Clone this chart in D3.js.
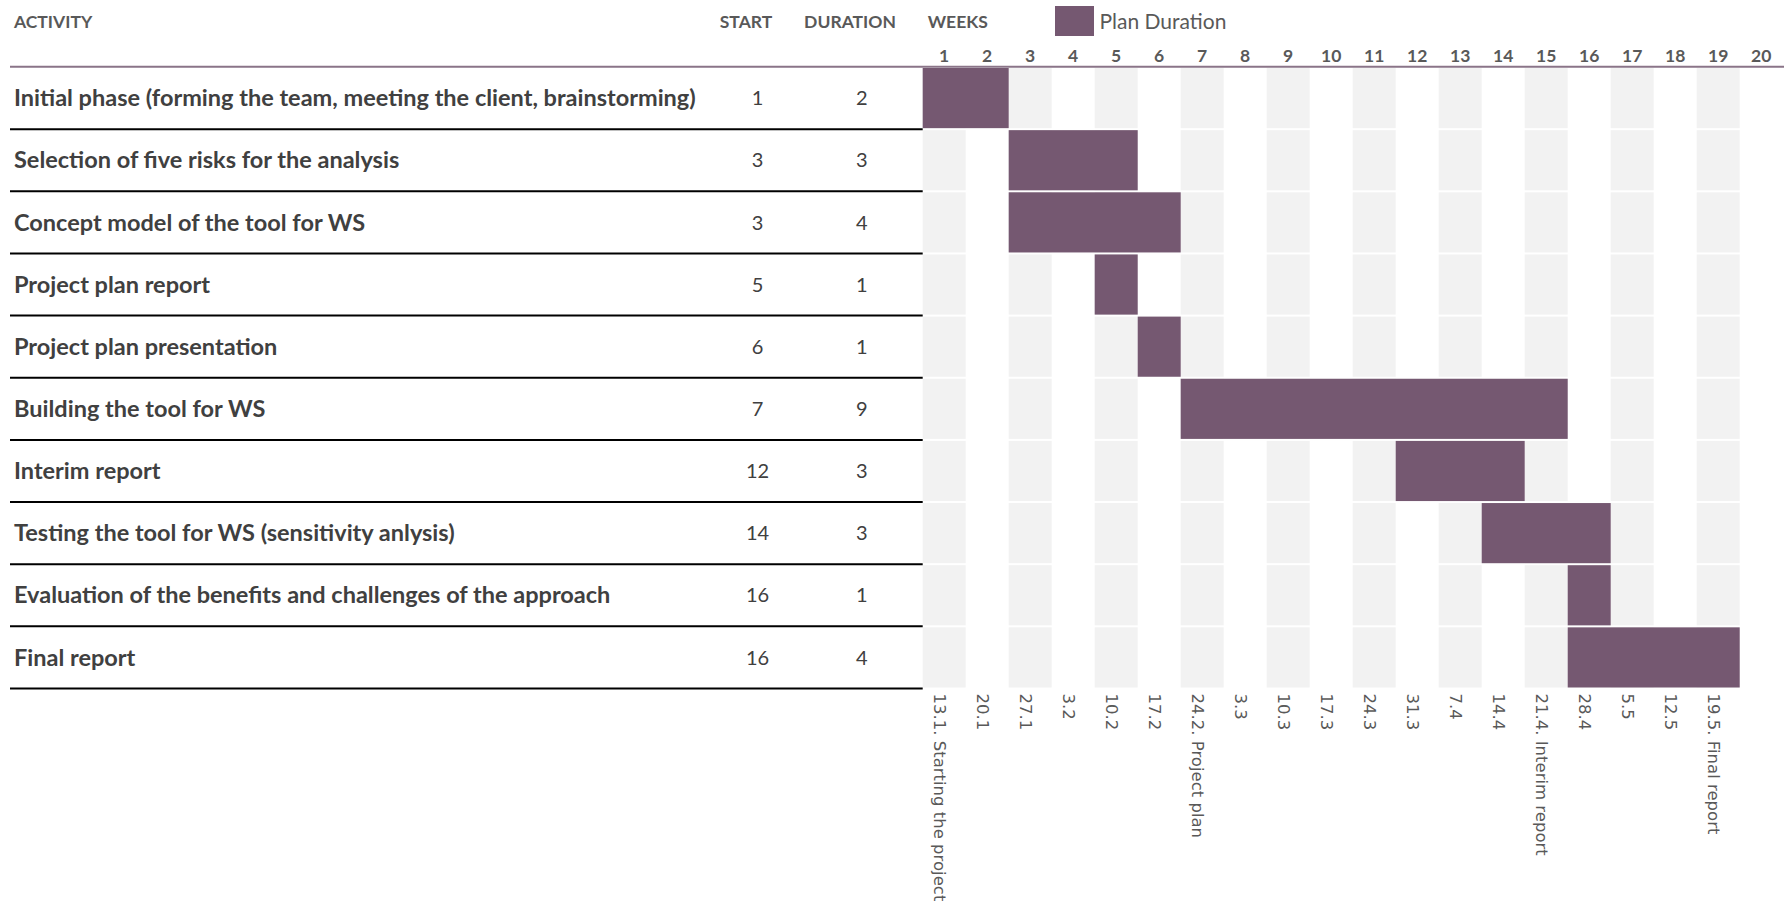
<!DOCTYPE html>
<html>
<head>
<meta charset="utf-8">
<script src="https://cdn.jsdelivr.net/npm/d3@7"></script>
<style>
  body { margin: 0; background: #ffffff; }
  .head { font-family: Lato, sans-serif; font-weight: bold; font-size: 17.5px; fill: #595959; }
  .task { font-family: Lato, sans-serif; font-weight: bold; font-size: 23.5px; fill: #404040; }
  .num { font-family: Lato, sans-serif; font-size: 20px; fill: #404040; }
  .date { font-family: "DejaVu Sans", sans-serif; font-size: 16.5px; fill: #595959; }
</style>
</head>
<body>
<script>
// activities of the plan
var activities = [
  "Initial phase (forming the team, meeting the client, brainstorming)",
  "Selection of five risks for the analysis",
  "Concept model of the tool for WS",
  "Project plan report",
  "Project plan presentation",
  "Building the tool for WS",
  "Interim report",
  "Testing the tool for WS (sensitivity anlysis)",
  "Evaluation of the benefits and challenges of the approach",
  "Final report"
];
var starts = [1, 3, 3, 5, 6, 7, 12, 14, 16, 16];
var durations = [2, 3, 4, 1, 1, 9, 3, 3, 1, 4];

// week numbers on top, dates below
var weeks = [1, 2, 3, 4, 5, 6, 7, 8, 9, 10, 11, 12, 13, 14, 15, 16, 17, 18, 19, 20];
var dateLabels = [
  "13.1. Starting the project", "20.1", "27.1", "3.2", "10.2", "17.2",
  "24.2. Project plan", "3.3", "10.3", "17.3", "24.3", "31.3", "7.4", "14.4",
  "21.4. Interim report", "28.4", "5.5", "12.5", "19.5. Final report"
];

var width = 1784, height = 904;
var barColor = "#755871";

var svg = d3.select("body")
  .append("svg")
  .attr("width", width)
  .attr("height", height);

// week axis: each week is one column
var x = d3.scaleLinear()
  .domain([1, weeks.length + 1])
  .range([922.7, 922.7 + weeks.length * 43]);

// one band per activity
var y = d3.scaleBand()
  .domain(activities)
  .range([67, 688.5])
  .padding(0);

var rowH = y.bandwidth();

// gray stripes on odd weeks, split per row
for (var w = 0; w < weeks.length; w += 2) {
  for (var r = 0; r < activities.length; r++) {
    svg.append("rect")
      .attr("x", x(weeks[w]))
      .attr("y", y(activities[r]) + 1)
      .attr("width", x(weeks[w] + 1) - x(weeks[w]))
      .attr("height", rowH - 2)
      .attr("fill", "#f2f2f2");
  }
}

// bars
for (var i = 0; i < activities.length; i++) {
  svg.append("rect")
    .attr("x", x(starts[i]))
    .attr("y", y(activities[i]) + 1)
    .attr("width", x(starts[i] + durations[i]) - x(starts[i]))
    .attr("height", rowH - 2)
    .attr("fill", barColor);
}

// header texts
svg.append("text").attr("class", "head").attr("x", 14).attr("y", 28).text("ACTIVITY");
svg.append("text").attr("class", "head").attr("x", 746).attr("y", 28)
  .attr("text-anchor", "middle").text("START");
svg.append("text").attr("class", "head").attr("x", 850).attr("y", 28)
  .attr("text-anchor", "middle").text("DURATION");
svg.append("text").attr("class", "head").attr("x", 927.7).attr("y", 28).text("WEEKS");

// legend
svg.append("rect")
  .attr("x", 1055).attr("y", 6)
  .attr("width", 39).attr("height", 30)
  .attr("fill", barColor);
svg.append("text")
  .attr("class", "num")
  .attr("x", 1099.5).attr("y", 28.5)
  .style("font-size", "21px")
  .style("fill", "#595959")
  .text("Plan Duration");

// week numbers
for (var w = 0; w < weeks.length; w++) {
  svg.append("text")
    .attr("class", "head")
    .attr("x", (x(weeks[w]) + x(weeks[w] + 1)) / 2)
    .attr("y", 61.5)
    .attr("text-anchor", "middle")
    .text(weeks[w]);
}

// header line
svg.append("line")
  .attr("x1", 10).attr("x2", width)
  .attr("y1", 66.7).attr("y2", 66.7)
  .attr("stroke", "#8a7488")
  .attr("stroke-width", 2);

// table rows
for (var i = 0; i < activities.length; i++) {
  var cy = y(activities[i]) + rowH / 2;
  svg.append("text")
    .attr("class", "task")
    .attr("x", 14)
    .attr("y", cy + 8.2)
    .text(activities[i]);
  svg.append("text")
    .attr("class", "num")
    .attr("x", 757.5)
    .attr("y", cy + 7.2)
    .attr("text-anchor", "middle")
    .text(starts[i]);
  svg.append("text")
    .attr("class", "num")
    .attr("x", 861.7)
    .attr("y", cy + 7.2)
    .attr("text-anchor", "middle")
    .text(durations[i]);
  // row separator below
  svg.append("line")
    .attr("x1", 10).attr("x2", x(1))
    .attr("y1", y(activities[i]) + rowH)
    .attr("y2", y(activities[i]) + rowH)
    .attr("stroke", "#000000")
    .attr("stroke-width", 2);
}

// rotated date labels under the weeks
for (var d = 0; d < dateLabels.length; d++) {
  svg.append("text")
    .attr("class", "date")
    .attr("transform", "translate(" + (x(weeks[d]) + 16.5) + ",693.5) rotate(90)")
    .attr("dominant-baseline", "central")
    .text(dateLabels[d]);
}
</script>
</body>
</html>
